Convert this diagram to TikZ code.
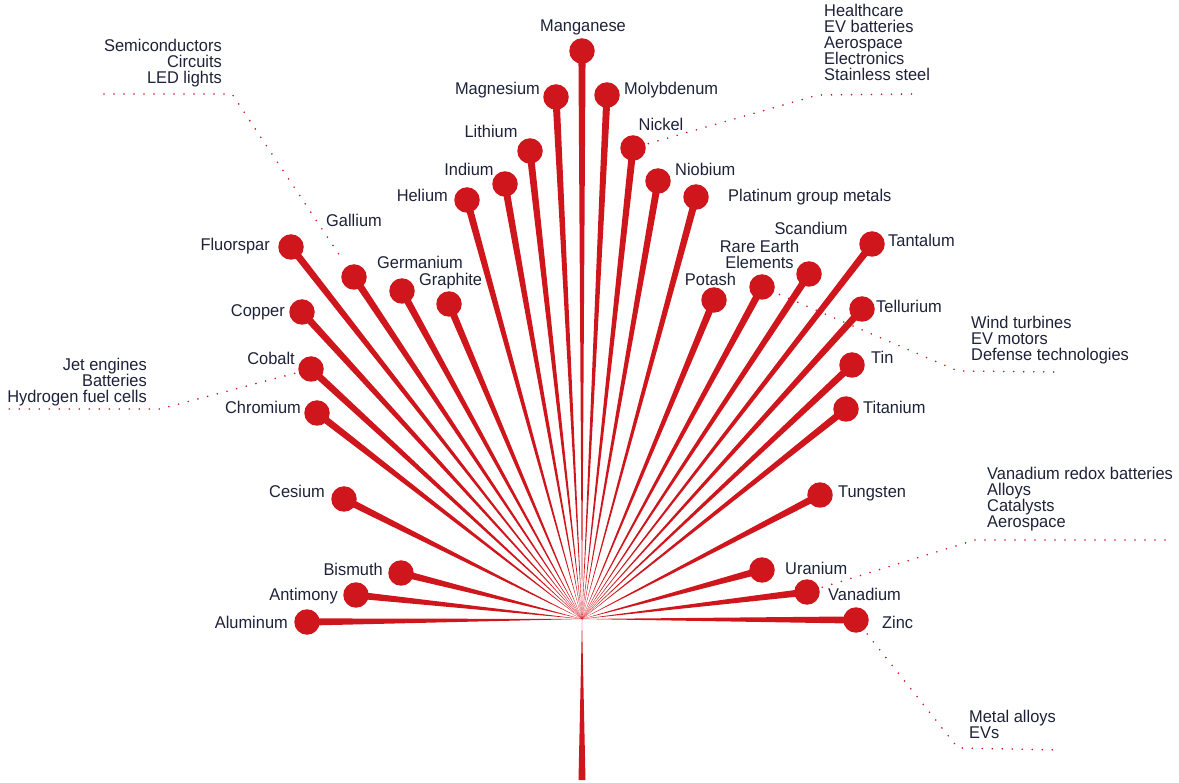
\documentclass[tikz,border=0pt]{standalone}
\usepackage{fontspec}
\setmainfont{Liberation Sans}[FakeStretch=0.965]
\usetikzlibrary{calc}
\definecolor{leafred}{RGB}{208,22,29}
\definecolor{ink}{RGB}{30,34,56}
\pgfdeclarelayer{bg}
\pgfsetlayers{bg,main}
\newcommand\leafray[1]{\fill[leafred] (c) -- ($(#1)!3.6pt!90:(c)$) -- ($(#1)!3.6pt!-90:(c)$) -- cycle;}
\begin{document}
\begin{tikzpicture}[x=1pt,y=-1pt,
  dot/.style={circle,fill=leafred,inner sep=0,minimum size=25.5pt},
  lbl/.style={inner sep=0,text=ink,font=\fontsize{17}{16}\selectfont},
  lblL/.style={lbl,anchor=base east},
  lblR/.style={lbl,anchor=base west},
  lblC/.style={lbl,anchor=base},
  leader/.style={draw=leafred,line width=1.8pt,line cap=round,dash pattern=on 0pt off 10pt},
]
\useasboundingbox (0,0) rectangle (1179,783);
\coordinate (c) at (582,619);
\coordinate (stemL) at (578.5,780);
\coordinate (stemR) at (585.5,780);

% circles
\node[dot] (mn) at (582,51) {};
\node[dot] (mg) at (556,97) {};
\node[dot] (mo) at (607,95) {};
\node[dot] (li) at (530,151) {};
\node[dot] (ni) at (633,148) {};
\node[dot] (in) at (505,184) {};
\node[dot] (nb) at (658,181) {};
\node[dot] (he) at (467,200) {};
\node[dot] (pgm) at (696,197) {};
\node[dot] (fl) at (291,247) {};
\node[dot] (ga) at (354,277) {};
\node[dot] (ge) at (402,291) {};
\node[dot] (gr) at (449,304) {};
\node[dot] (po) at (714,300) {};
\node[dot] (ree) at (762,287) {};
\node[dot] (sc) at (809,274) {};
\node[dot] (ta) at (872,244) {};
\node[dot] (cu) at (302,312) {};
\node[dot] (te) at (862,309) {};
\node[dot] (co) at (311,369) {};
\node[dot] (sn) at (852,365) {};
\node[dot] (cr) at (317,413) {};
\node[dot] (ti) at (846,409) {};
\node[dot] (cs) at (344,499) {};
\node[dot] (w) at (820,495) {};
\node[dot] (bi) at (401,573) {};
\node[dot] (u) at (762,570) {};
\node[dot] (sb) at (356,595) {};
\node[dot] (v) at (807,592) {};
\node[dot] (al) at (307,622) {};
\node[dot] (zn) at (856,620) {};

% rays and stem
\begin{pgfonlayer}{bg}
\foreach \e in {mn,mg,mo,li,ni,in,nb,he,pgm,fl,ga,ge,gr,po,ree,sc,ta,cu,te,co,sn,cr,ti,cs,w,bi,u,sb,v,al,zn}{\leafray{\e}}
\fill[leafred] (c) -- (stemL) -- (stemR) -- cycle;
\end{pgfonlayer}

% element labels
\node[lblC] (tmn) at (583,32) {Manganese};
\node[lblL] (tmg) at (540,95) {Magnesium};
\node[lblR] (tmo) at (624,95) {Molybdenum};
\node[lblC] (tli) at (491,138) {Lithium};
\node[lblC] (tni) at (661,131) {Nickel};
\node[lblC] (tin) at (469,176) {Indium};
\node[lblR] (tnb) at (675,176) {Niobium};
\node[lblL] (the) at (448,202) {Helium};
\node[lblR] (tpgm) at (728,202) {Platinum group metals};
\node[lblL] (tfl) at (270,251) {Fluorspar};
\node[lblR] (tga) at (326,227) {Gallium};
\node[lblR] (tge) at (377,269) {Germanium};
\node[lblR] (tgr) at (419,286) {Graphite};
\node[lblC] (tpo) at (710.5,286) {Potash};
\node[lblC,align=center] (tree) at (759.5,269) {Rare Earth\\Elements};
\node[lblC] (tsc) at (811,235) {Scandium};
\node[lblR] (tta) at (888,247) {Tantalum};
\node[lblL] (tcu) at (285,317) {Copper};
\node[lblR] (tte) at (876,313) {Tellurium};
\node[lblL] (tco) at (295,365) {Cobalt};
\node[lblR] (tsn) at (871,364) {Tin};
\node[lblL] (tcr) at (301,414) {Chromium};
\node[lblR] (tti) at (863,414) {Titanium};
\node[lblL] (tcs) at (325,498) {Cesium};
\node[lblR] (tw) at (838,498) {Tungsten};
\node[lblL] (tbi) at (383,576) {Bismuth};
\node[lblR] (tu) at (785,575) {Uranium};
\node[lblL] (tsb) at (338,600) {Antimony};
\node[lblR] (tv) at (828,600) {Vanadium};
\node[lblL] (tal) at (288,628) {Aluminum};
\node[lblR] (tzn) at (882,628) {Zinc};

% use labels (base anchor = baseline of last line)
\node[lblL,align=right] (semi) at (222,84) {Semiconductors\\Circuits\\LED lights};
\node[lblR,align=left] (health) at (824,81) {Healthcare\\EV batteries\\Aerospace\\Electronics\\Stainless steel};
\node[lblL,align=right] (jet) at (147,403) {Jet engines\\Batteries\\Hydrogen fuel cells};
\node[lblR,align=left] (wind) at (971,361) {Wind turbines\\EV motors\\Defense technologies};
\node[lblR,align=left] (vanr) at (987,528) {Vanadium redox batteries\\Alloys\\Catalysts\\Aerospace};
\node[lblR,align=left] (metal) at (969,738) {Metal alloys\\EVs};

% leaders
\coordinate (semiE) at (104,94);
\coordinate (semiB) at (232,94);
\draw[leader,shorten >=6pt] (semiE) -- (semiB) -- (ga);
\coordinate (niB) at (818,95);
\coordinate (niE) at (915,94);
\draw[leader,shorten <=3pt] (ni) -- (niB) -- (niE);
\coordinate (coB) at (160,409);
\coordinate (coE) at (6,409);
\draw[leader,shorten <=4pt] (co) -- (coB) -- (coE);
\coordinate (reeB) at (958,371);
\coordinate (reeE) at (1060,372);
\draw[leader,shorten <=6pt] (ree) -- (reeB) -- (reeE);
\coordinate (vB) at (975,540);
\coordinate (vE) at (1170,540);
\draw[leader,shorten <=3pt] (v) -- (vB) -- (vE);
\coordinate (znB) at (958,748);
\coordinate (znE) at (1060,750);
\draw[leader,shorten <=5pt] (zn) -- (znB) -- (znE);
\end{tikzpicture}
\end{document}
